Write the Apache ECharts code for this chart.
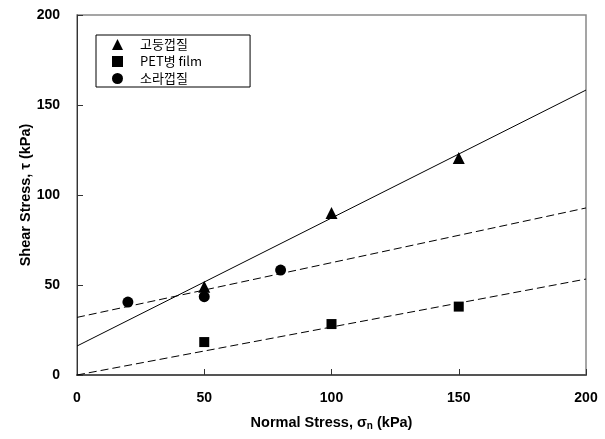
<!DOCTYPE html>
<html>
<head>
<meta charset="utf-8">
<script src="https://cdn.jsdelivr.net/npm/echarts@6/dist/echarts.min.js"></script>
<style>
  html, body { margin: 0; padding: 0; background: #fff; }
  #chart { width: 605px; height: 439px; }
</style>
</head>
<body>
<div id="chart"></div>
<script>
// Measured points: normal stress (kPa) vs shear stress (kPa)
const seriesNames = ['고둥껍질', 'PET병 film', '소라껍질'];
const shellX = [50, 100, 150];
const shellY = [49, 90, 120.5];
const petX = [50, 100, 150];
const petY = [18.3, 28.3, 38];
const conchX = [20, 50, 80];
const conchY = [40.5, 43.5, 58.3];

// Fitted failure envelopes, evaluated at the ends of the axis
const fitX = [0, 200];
const shellFit = [16.1, 158.3];
const petFit = [0, 53.3];
const conchFit = [32, 92.8];

const xTicks = [0, 50, 100, 150, 200];
const yTicks = [0, 50, 100, 150, 200];

const pair = (xs, ys) => xs.map((x, i) => [x, ys[i]]);

const sansFont = 'Liberation Sans, Arial, sans-serif';
const labelFont = { fontFamily: sansFont, fontSize: 14, fontWeight: 'bold', color: '#000' };
const titleFont = { fontFamily: sansFont, fontSize: 14.5, fontWeight: 'bold', color: '#000' };

const chart = echarts.init(document.getElementById('chart'), null, { renderer: 'canvas' });

chart.setOption({
  animation: false,
  backgroundColor: '#fff',
  grid: {
    left: 77, right: 19, top: 15, bottom: 64,
    outerBoundsMode: 'none', containLabel: false,
    show: true, borderColor: '#888', borderWidth: 1.5, backgroundColor: 'transparent'
  },
  legend: {
    data: seriesNames,
    orient: 'vertical',
    left: 96, top: 35,
    itemWidth: 11, itemHeight: 11, itemGap: 4,
    padding: [3, 48, 2, 16],
    borderColor: '#000', borderWidth: 1,
    textStyle: {
      fontFamily: 'Noto Sans CJK KR, sans-serif',
      fontSize: 13, color: '#000',
      padding: [0, 0, 0, 12]
    },
    selectedMode: false
  },
  xAxis: {
    type: 'value', min: 0, max: 200, interval: 50,
    name: '{t|Normal Stress, σ}{s|n}{t| (kPa)}',
    nameLocation: 'middle', nameGap: 40, nameMoveOverlap: false,
    nameTextStyle: {
      rich: {
        t: titleFont,
        s: Object.assign({}, titleFont, { fontSize: 10, verticalAlign: 'bottom', padding: [6, 0, 0, 0] })
      }
    },
    axisLine: { lineStyle: { color: '#555', width: 2 } },
    axisTick: { inside: true, length: 6, lineStyle: { color: '#333' } },
    axisLabel: Object.assign({ margin: 16, formatter: v => xTicks.includes(v) ? String(v) : '' }, labelFont),
    splitLine: { show: false }
  },
  yAxis: {
    type: 'value', min: 0, max: 200, interval: 50,
    name: 'Shear Stress, τ (kPa)',
    nameLocation: 'middle', nameGap: 44, nameMoveOverlap: false,
    nameTextStyle: titleFont,
    axisLine: { lineStyle: { color: '#333', width: 1 } },
    axisTick: { inside: true, length: 6, lineStyle: { color: '#333' } },
    axisLabel: Object.assign({ margin: 17, formatter: v => yTicks.includes(v) ? String(v) : '' }, labelFont),
    splitLine: { show: false }
  },
  series: [
    {
      name: 'shell-fit', type: 'line', data: pair(fitX, shellFit),
      symbol: 'none', silent: true,
      lineStyle: { color: '#000', width: 1 }
    },
    {
      name: 'pet-fit', type: 'line', data: pair(fitX, petFit),
      symbol: 'none', silent: true,
      lineStyle: { color: '#000', width: 1, type: [8, 4] }
    },
    {
      name: 'conch-fit', type: 'line', data: pair(fitX, conchFit),
      symbol: 'none', silent: true,
      lineStyle: { color: '#000', width: 1, type: [8, 4] }
    },
    {
      name: seriesNames[0], type: 'scatter', data: pair(shellX, shellY),
      symbol: 'triangle', symbolSize: 12, itemStyle: { color: '#000', opacity: 1 }
    },
    {
      name: seriesNames[1], type: 'scatter', data: pair(petX, petY),
      symbol: 'rect', symbolSize: 10, itemStyle: { color: '#000', opacity: 1 }
    },
    {
      name: seriesNames[2], type: 'scatter', data: pair(conchX, conchY),
      symbol: 'circle', symbolSize: 11, itemStyle: { color: '#000', opacity: 1 }
    }
  ]
});
</script>
</body>
</html>
